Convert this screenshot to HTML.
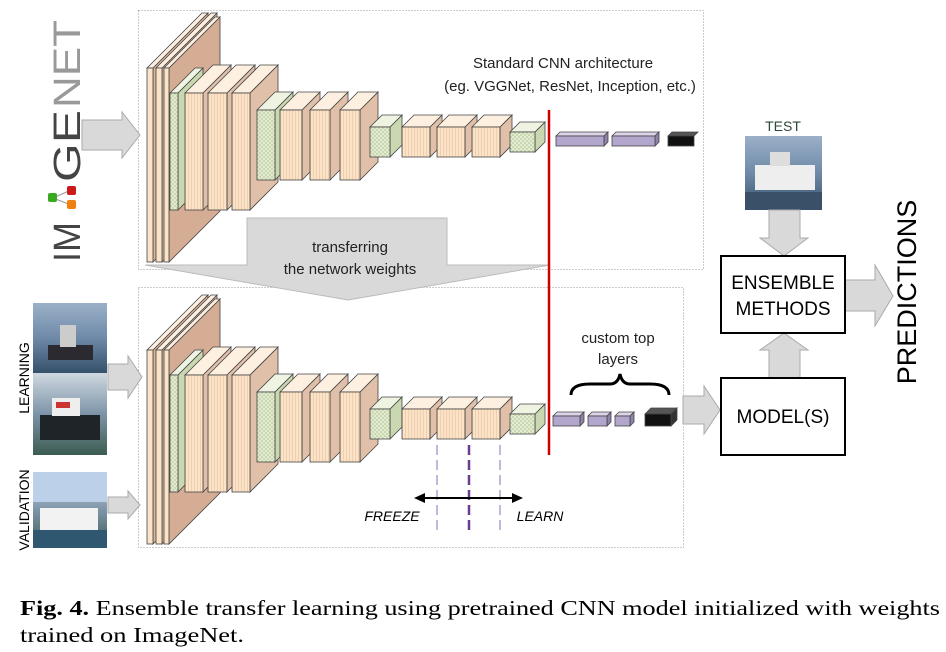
<!DOCTYPE html>
<html><head><meta charset="utf-8"><style>
body{margin:0;background:#fff;width:946px;height:652px;overflow:hidden}
svg{display:block}
</style></head><body>
<svg width="946" height="652" viewBox="0 0 946 652" xmlns="http://www.w3.org/2000/svg" font-family="Liberation Sans, sans-serif">
<defs>
<pattern id="st" width="3" height="4" patternUnits="userSpaceOnUse"><rect width="3" height="4" fill="#fbe3c8"/><rect width="1" height="4" fill="#efcfb0"/></pattern>
<pattern id="ck" width="4" height="4" patternUnits="userSpaceOnUse"><rect width="4" height="4" fill="#e3ecd2"/><rect width="2" height="2" fill="#c9d8b0"/><rect x="2" y="2" width="2" height="2" fill="#c9d8b0"/></pattern>
<linearGradient id="sea" x1="0" y1="0" x2="0" y2="1"><stop offset="0" stop-color="#9bb0c8"/><stop offset="0.5" stop-color="#6e8aa8"/><stop offset="1" stop-color="#35506a"/></linearGradient>
<linearGradient id="sea2" x1="0" y1="0" x2="0" y2="1"><stop offset="0" stop-color="#cfd8e0"/><stop offset="0.5" stop-color="#7d94a8"/><stop offset="1" stop-color="#3c5c50"/></linearGradient>
<g id="cnn" stroke="#444" stroke-width="0.8">
 <g transform="translate(147,68)"><polygon points="6,0 61,-55 61,139 6,194" fill="#d8b49c"/><polygon points="0,0 55,-55 61,-55 6,0" fill="#fdf0e0"/><rect width="6" height="194" fill="#fbe3c8"/></g>
 <g transform="translate(156,68)"><polygon points="6,0 61,-55 61,139 6,194" fill="#d8b49c"/><polygon points="0,0 55,-55 61,-55 6,0" fill="#fdf0e0"/><rect width="6" height="194" fill="#fbe3c8"/></g>
 <g transform="translate(164,68)"><polygon points="5,0 56,-51 56,143 5,194" fill="#d4ad94"/><polygon points="0,0 51,-51 56,-51 5,0" fill="#fdf0e0"/><rect width="5" height="194" fill="#fbe3c8"/></g>
 <g transform="translate(170,93)"><polygon points="8,0 33,-25 33,92 8,117" fill="#c9d8b0"/><polygon points="0,0 25,-25 33,-25 8,0" fill="#eef3e2"/><rect width="8" height="117" fill="url(#ck)"/></g>
 <g transform="translate(185,93)"><polygon points="18,0 46,-28 46,89 18,117" fill="#e0c0a8"/><polygon points="0,0 28,-28 46,-28 18,0" fill="#fdf0e0"/><rect width="18" height="117" fill="url(#st)"/></g>
 <g transform="translate(208,93)"><polygon points="19,0 47,-28 47,89 19,117" fill="#e0c0a8"/><polygon points="0,0 28,-28 47,-28 19,0" fill="#fdf0e0"/><rect width="19" height="117" fill="url(#st)"/></g>
 <g transform="translate(232,93)"><polygon points="18,0 46,-28 46,89 18,117" fill="#e0c0a8"/><polygon points="0,0 28,-28 46,-28 18,0" fill="#fdf0e0"/><rect width="18" height="117" fill="url(#st)"/></g>
 <g transform="translate(257,110)"><polygon points="18,0 36,-18 36,52 18,70" fill="#c9d8b0"/><polygon points="0,0 18,-18 36,-18 18,0" fill="#eef3e2"/><rect width="18" height="70" fill="url(#ck)"/></g>
 <g transform="translate(280,110)"><polygon points="22,0 40,-18 40,52 22,70" fill="#e0c0a8"/><polygon points="0,0 18,-18 40,-18 22,0" fill="#fdf0e0"/><rect width="22" height="70" fill="url(#st)"/></g>
 <g transform="translate(310,110)"><polygon points="20,0 38,-18 38,52 20,70" fill="#e0c0a8"/><polygon points="0,0 18,-18 38,-18 20,0" fill="#fdf0e0"/><rect width="20" height="70" fill="url(#st)"/></g>
 <g transform="translate(340,110)"><polygon points="20,0 38,-18 38,52 20,70" fill="#e0c0a8"/><polygon points="0,0 18,-18 38,-18 20,0" fill="#fdf0e0"/><rect width="20" height="70" fill="url(#st)"/></g>
 <g transform="translate(370,127)"><polygon points="20,0 32,-12 32,18 20,30" fill="#c9d8b0"/><polygon points="0,0 12,-12 32,-12 20,0" fill="#eef3e2"/><rect width="20" height="30" fill="url(#ck)"/></g>
 <g transform="translate(402,127)"><polygon points="28,0 40,-12 40,18 28,30" fill="#e0c0a8"/><polygon points="0,0 12,-12 40,-12 28,0" fill="#fdf0e0"/><rect width="28" height="30" fill="url(#st)"/></g>
 <g transform="translate(437,127)"><polygon points="28,0 40,-12 40,18 28,30" fill="#e0c0a8"/><polygon points="0,0 12,-12 40,-12 28,0" fill="#fdf0e0"/><rect width="28" height="30" fill="url(#st)"/></g>
 <g transform="translate(472,127)"><polygon points="28,0 40,-12 40,18 28,30" fill="#e0c0a8"/><polygon points="0,0 12,-12 40,-12 28,0" fill="#fdf0e0"/><rect width="28" height="30" fill="url(#st)"/></g>
 <g transform="translate(510,132)"><polygon points="25,0 35,-10 35,10 25,20" fill="#c9d8b0"/><polygon points="0,0 10,-10 35,-10 25,0" fill="#eef3e2"/><rect width="25" height="20" fill="url(#ck)"/></g>
</g>
</defs>

<rect x="138.5" y="10.5" width="565" height="259" fill="none" stroke="#999" stroke-dasharray="1,2"/>
<rect x="138.5" y="287.5" width="545" height="260" fill="none" stroke="#999" stroke-dasharray="1,2"/>

<polygon points="247,218 447,218 447,265 550,265 348,300 145,265 247,265" fill="#d9d9d9" stroke="#bbb"/>
<text x="350" y="252" font-size="15" text-anchor="middle" fill="#222">transferring</text>
<text x="350" y="274" font-size="15" text-anchor="middle" fill="#222">the network weights</text>

<use href="#cnn"/>
<use href="#cnn" transform="translate(0,282)"/>

<g stroke="#444" stroke-width="0.8">
<polygon points="556,136 560,132 608,132 604,136" fill="#ddd4ea"/><polygon points="604,136 608,132 608,142 604,146" fill="#8f82a8"/><rect x="556" y="136" width="48" height="10" fill="#b3a6cc"/>
<polygon points="612,136 616,132 659,132 655,136" fill="#ddd4ea"/><polygon points="655,136 659,132 659,142 655,146" fill="#8f82a8"/><rect x="612" y="136" width="43" height="10" fill="#b3a6cc"/>
<polygon points="668,136 672,132 698,132 694,136" fill="#555"/><rect x="668" y="136" width="26" height="10" fill="#111"/>
<polygon points="553,416 557,412 584,412 580,416" fill="#ddd4ea"/><polygon points="580,416 584,412 584,422 580,426" fill="#8f82a8"/><rect x="553" y="416" width="27" height="10" fill="#b3a6cc"/>
<polygon points="588,416 592,412 611,412 607,416" fill="#ddd4ea"/><polygon points="607,416 611,412 611,422 607,426" fill="#8f82a8"/><rect x="588" y="416" width="19" height="10" fill="#b3a6cc"/>
<polygon points="615,416 619,412 634,412 630,416" fill="#ddd4ea"/><polygon points="630,416 634,412 634,422 630,426" fill="#8f82a8"/><rect x="615" y="416" width="15" height="10" fill="#b3a6cc"/>
<polygon points="645,414 651,408 677,408 671,414" fill="#555"/><polygon points="671,414 677,408 677,420 671,426" fill="#333"/><rect x="645" y="414" width="26" height="12" fill="#111"/>
</g>

<line x1="549" y1="110" x2="549" y2="455" stroke="#c00" stroke-width="2.5"/>

<text x="563" y="68" font-size="15" text-anchor="middle" fill="#222">Standard CNN architecture</text>
<text x="570" y="91" font-size="15" text-anchor="middle" fill="#222">(eg. VGGNet, ResNet, Inception, etc.)</text>

<text x="618" y="343" font-size="15" text-anchor="middle" fill="#222">custom top</text>
<text x="618" y="364" font-size="15" text-anchor="middle" fill="#222">layers</text>
<path d="M571,395 Q571,384 590,384 L610,384 Q618,384 620,374 Q622,384 630,384 L650,384 Q669,384 669,395" fill="none" stroke="#000" stroke-width="3"/>

<line x1="437" y1="445" x2="437" y2="535" stroke="#c4b6dc" stroke-width="2" stroke-dasharray="10,5"/>
<line x1="469" y1="445" x2="469" y2="535" stroke="#6a3d8f" stroke-width="2.5" stroke-dasharray="10,5"/>
<line x1="500" y1="445" x2="500" y2="535" stroke="#c4b6dc" stroke-width="2" stroke-dasharray="10,5"/>
<line x1="422" y1="498" x2="515" y2="498" stroke="#000" stroke-width="2"/>
<polygon points="414,498 425,493 425,503" fill="#000"/><polygon points="523,498 512,493 512,503" fill="#000"/>
<text x="392" y="521" font-size="14" font-style="italic" text-anchor="middle">FREEZE</text>
<text x="540" y="521" font-size="14" font-style="italic" text-anchor="middle">LEARN</text>

<polygon points="82,120 122,120 122,112 140,135 122,158 122,150 82,150" fill="#d9d9d9" stroke="#aaa"/>
<polygon points="108,364 128,364 128,356 142,377 128,398 128,390 108,390" fill="#d9d9d9" stroke="#aaa"/>
<polygon points="108,497 128,497 128,491 140,505 128,519 128,513 108,513" fill="#d9d9d9" stroke="#aaa"/>

<!-- ImageNet logo -->
<g transform="translate(80,262) rotate(-90)" font-size="38">
<text x="0" y="0" fill="#444" textLength="40" lengthAdjust="spacingAndGlyphs">IM</text>
<text x="80" y="0" fill="#444" textLength="72" lengthAdjust="spacingAndGlyphs">GE</text>
<text x="154" y="0" fill="#999" textLength="88" lengthAdjust="spacingAndGlyphs">NET</text>
</g>
<line x1="53" y1="198" x2="71" y2="190" stroke="#999"/><line x1="53" y1="198" x2="71" y2="205" stroke="#999"/>
<rect x="48" y="193" width="9" height="9" rx="2" fill="#3aaa20"/>
<rect x="67" y="186" width="9" height="9" rx="2" fill="#cc1a1a"/>
<rect x="67" y="200" width="9" height="9" rx="2" fill="#f08010"/>

<rect x="33" y="303" width="74" height="70" fill="url(#sea)"/>
<rect x="48" y="345" width="45" height="15" fill="#2a2a30"/><rect x="60" y="325" width="16" height="22" fill="#ccc"/>
<rect x="33" y="373" width="74" height="82" fill="url(#sea2)"/>
<rect x="40" y="415" width="60" height="25" fill="#1e2428"/><rect x="52" y="398" width="28" height="18" fill="#eee"/><rect x="56" y="402" width="14" height="6" fill="#c33"/>
<rect x="33" y="472" width="74" height="76" fill="url(#sea2)"/>
<rect x="33" y="472" width="74" height="30" fill="#bcd0ea"/>
<rect x="40" y="508" width="58" height="22" fill="#f2f2f2"/><rect x="33" y="530" width="74" height="18" fill="#2f5870"/>
<text transform="translate(29,378) rotate(-90)" font-size="14" text-anchor="middle">LEARNING</text>
<text transform="translate(29,510) rotate(-90)" font-size="14" text-anchor="middle">VALIDATION</text>

<text x="783" y="131" font-size="14" text-anchor="middle" fill="#2a4a3a">TEST</text>
<rect x="745" y="136" width="77" height="74" fill="url(#sea)"/>
<rect x="755" y="165" width="60" height="25" fill="#eee"/><rect x="770" y="152" width="20" height="14" fill="#ddd"/><rect x="745" y="192" width="77" height="18" fill="#3a5068"/>
<polygon points="769,210 800,210 800,238 808,238 784,256 760,238 769,238" fill="#d9d9d9" stroke="#aaa"/>
<polygon points="769,378 800,378 800,350 808,350 784,333 760,350 769,350" fill="#d9d9d9" stroke="#aaa"/>
<polygon points="845,280 875,280 875,265 893,296 875,326 875,311 845,311" fill="#d9d9d9" stroke="#aaa"/>
<polygon points="683,396 704,396 704,386 720,410 704,434 704,424 683,424" fill="#d9d9d9" stroke="#aaa"/>
<rect x="721" y="256" width="124" height="77" fill="#fff" stroke="#000" stroke-width="2"/>
<text x="783" y="289" font-size="19" text-anchor="middle">ENSEMBLE</text>
<text x="783" y="315" font-size="19" text-anchor="middle">METHODS</text>
<rect x="721" y="378" width="124" height="77" fill="#fff" stroke="#000" stroke-width="2"/>
<text x="783" y="423" font-size="19" text-anchor="middle">MODEL(S)</text>
<text transform="translate(916,292) rotate(-90)" font-size="27" text-anchor="middle">PREDICTIONS</text>

<text x="20" y="615" font-family="Liberation Serif, serif" font-size="21" textLength="920" lengthAdjust="spacingAndGlyphs"><tspan font-weight="bold">Fig. 4.</tspan> Ensemble transfer learning using pretrained CNN model initialized with weights</text>
<text x="20" y="642" font-family="Liberation Serif, serif" font-size="21" textLength="224" lengthAdjust="spacingAndGlyphs">trained on ImageNet.</text>
</svg>
</body></html>
